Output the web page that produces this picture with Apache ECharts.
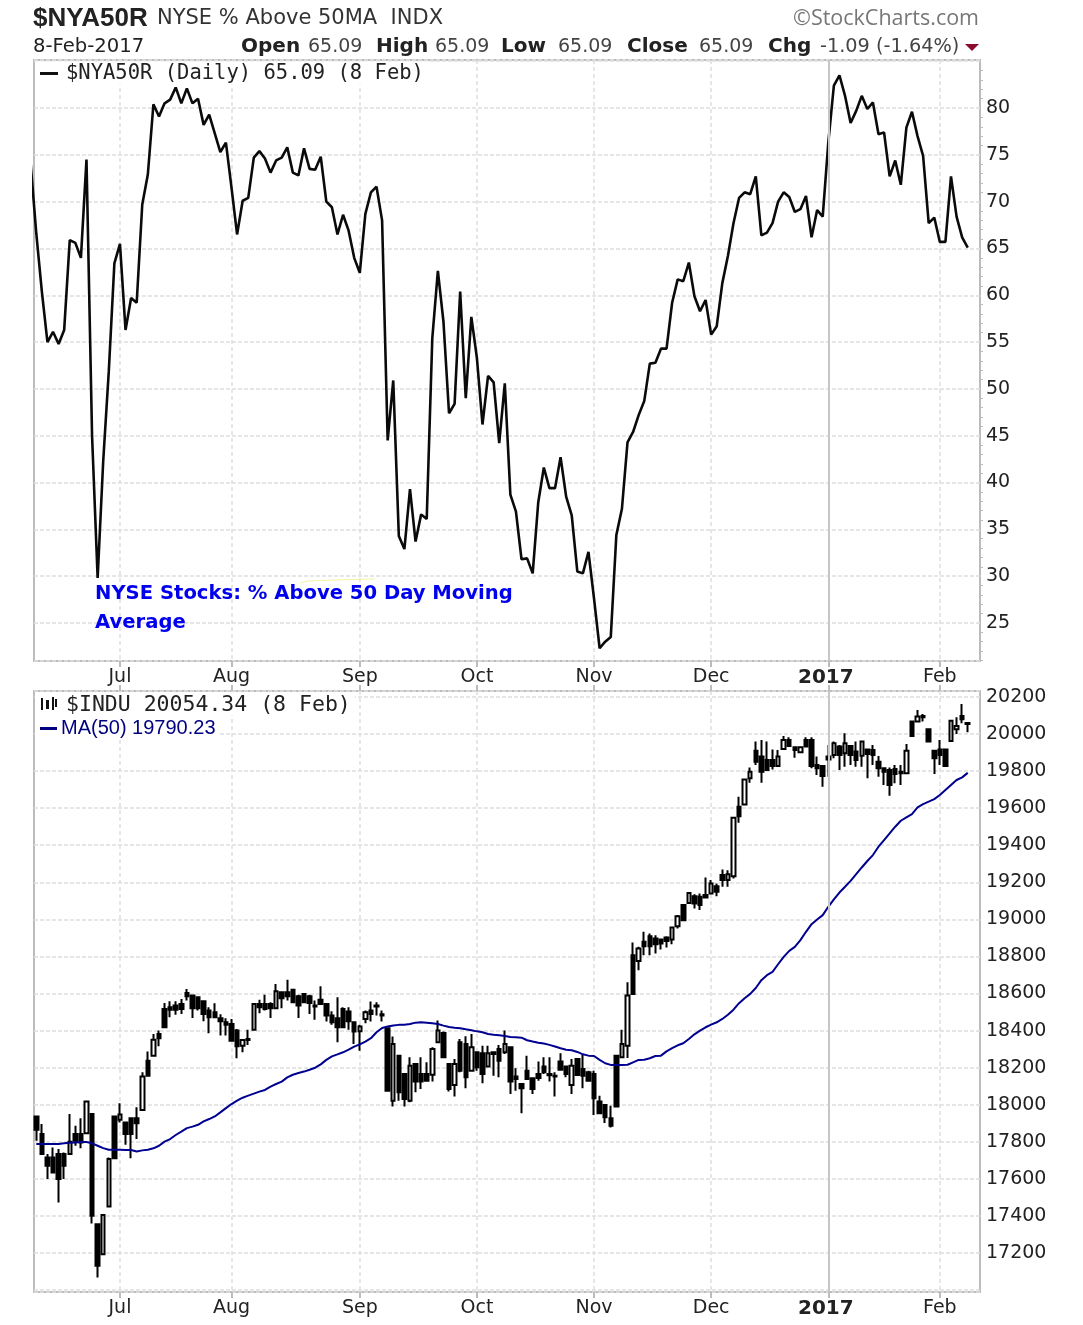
<!DOCTYPE html>
<html>
<head>
<meta charset="utf-8">
<style>html,body{margin:0;padding:0;background:#fff}#c{width:1083px;height:1325px}</style>
<script src="https://cdn.jsdelivr.net/npm/echarts@6/dist/echarts.min.js"></script>
</head>
<body>
<div id="c"></div>
<script>
// trading-day position of each month's first session (Jun 9 2016 = 0)
const monthTickIndex = [16, 36, 59, 80, 101, 122, 143, 163];
const monthTickLabels = ['Jul', 'Aug', 'Sep', 'Oct', 'Nov', 'Dec', '2017', 'Feb'];
const yearTickIndex = 143;
const nyaTickLabels = [25, 30, 35, 40, 45, 50, 55, 60, 65, 70, 75, 80];
const induTickLabels = [17200, 17400, 17600, 17800, 18000, 18200, 18400, 18600, 18800, 19000, 19200, 19400, 19600, 19800, 20000, 20200];

// $NYA50R close, daily from Jun 9 2016
const nyaValues = [
74,66.6,60.4,55,56.1,54.8,56.3,65.9,65.6,64,74.5,45,29.8,42.3,51.9,63.4,65.5,56.3,59.7,59.2,
69.7,72.9,80.4,79.1,80.5,80.9,82.2,80.5,82.1,80.5,81,78.2,79.3,77.3,75.3,76.3,71.5,66.5,70.1,70.4,
74.7,75.4,74.6,73.1,74.4,74.7,75.8,73.1,72.8,75.7,73.5,73.4,74.8,70,69.4,66.5,68.6,66.9,64,62.4,
68.7,71,71.6,68,44.5,50.9,34.3,32.9,39.3,33.7,36.6,36.1,55.4,62.6,57.2,47.4,48.4,60.4,49,57.7,
53.3,46.2,51.4,50.7,44.2,50.6,38.7,36.9,31.8,31.9,30.3,37.9,41.6,39.4,39.4,42.7,38.5,36.5,30.5,30.3,
32.6,27.6,22.3,23,23.5,34.4,37.2,44.3,45.4,47.2,48.7,52.7,52.8,54.3,54.3,59.2,61.7,61.5,63.5,59.9,
58.3,59.5,55.8,56.7,61.3,64.2,67.7,70.4,71,70.8,72.7,66.4,66.7,67.7,70,71,70.5,68.9,69.2,70.6,
66.2,69.1,68.4,76.3,82.4,83.5,81.3,78.4,79.7,81.3,79.9,80.6,77.2,77.4,72.7,74.4,71.8,77.9,79.6,77,
74.9,67.7,68.3,65.7,65.7,72.7,68.4,66.18,65.09];

// $INDU daily from Jun 10 2016
const induOpen = [
17937,17842,17716,17716,17734,17734,17734,17842,17842,17847,17950,17356,17194,17451,17937,17919,17905,17927,17927,17972,
18238,18265,18382,18517,18526,18535,18544,18603,18589,18580,18558,18508,18499,18467,18445,18436,18400,18319,18355,18405,
18544,18544,18544,18521,18607,18607,18621,18585,18598,18585,18535,18567,18544,18481,18467,18517,18503,18445,18396,18463,
18508,18535,18488,18413,18022,18265,18166,18022,18220,18166,18166,18162,18337,18387,18220,18107,18337,18328,18184,18283,
18278,18207,18283,18301,18283,18310,18152,18112,18184,18143,18166,18207,18166,18157,18233,18207,18107,18247,18193,18175,
18166,18017,17999,17927,18265,18256,18319,18807,18776,18879,18909,18897,18891,18902,18891,18963,19077,19089,19125,19122,
19131,19140,19179,19239,19212,19233,19608,19620,19761,19910,19878,19860,19860,19827,19919,19968,19928,19901,19968,19968,
19833,19827,19878,19887,19932,19896,19935,19905,19883,19917,19914,19851,19815,19806,19811,19797,19788,20067,20067,20097,
20025,19910,19917,19917,19962,20025,20097,20060];
const induClose = [
17865,17734,17671,17635,17599,17671,17801,17806,17797,18017,17401,17131,17406,17707,17711,17948,17842,17842,17900,18153,
18157,18351,18359,18418,18513,18513,18517,18585,18521,18521,18490,18472,18472,18450,18431,18346,18315,18350,18350,18544,
18526,18517,18521,18612,18575,18585,18553,18535,18553,18549,18530,18544,18481,18445,18418,18418,18450,18395,18422,18499,
18490,18530,18481,18076,18328,18067,18031,18211,18125,18125,18130,18301,18400,18256,18085,18220,18184,18148,18310,18202,
18166,18278,18274,18238,18328,18125,18139,18089,18139,18085,18144,18175,18159,18152,18189,18166,18211,18161,18157,18130,
18035,17954,17932,17887,17991,18328,18589,18598,18843,18855,18855,18866,18870,18884,18956,19017,18996,19143,19086,19077,
19118,19194,19149,19212,19244,19548,19557,19755,19797,19851,19797,19806,19827,19878,19968,19935,19914,19928,19932,19827,
19815,19773,19863,19950,19887,19950,19887,19860,19959,19892,19887,19815,19797,19725,19784,19788,19910,19989,20094,20090,
19959,19869,19887,19827,20072,20043,20079,20054.34];
const induLow = [
17806,17734,17599,17635,17473,17599,17734,17779,17765,17847,17360,17068,17194,17451,17711,17905,17784,17711,17815,17972,
18157,18261,18315,18418,18472,18485,18490,18562,18468,18508,18450,18386,18467,18373,18373,18346,18251,18283,18323,18405,
18494,18508,18468,18521,18521,18562,18548,18468,18549,18490,18459,18544,18449,18432,18337,18418,18404,18328,18292,18440,
18449,18481,18449,18076,17990,18022,17990,18013,18067,18085,18125,18125,18337,18251,18072,18044,18175,18089,18179,18184,
18116,18202,18157,18148,18274,18058,18076,17954,18139,18058,18130,18166,18126,18045,18189,18148,18058,18161,18089,18125,
17945,17954,17901,17878,17991,18256,18252,18598,18726,18806,18806,18816,18837,18848,18866,18951,18996,19086,19059,19050,
19118,19140,19125,19176,19176,19221,19521,19617,19737,19833,19737,19806,19809,19824,19917,19932,19872,19896,19928,19815,
19779,19716,19770,19869,19806,19824,19833,19824,19824,19761,19833,19770,19725,19667,19734,19725,19784,19989,20067,20067,
19959,19784,19833,19824,19959,20000,20058,20009];
const induHigh = [
17937,17896,17734,17770,17761,17743,17950,17887,17927,18017,17950,17356,17406,17716,17937,18008,17905,17927,17986,18175,
18288,18382,18400,18549,18558,18558,18571,18625,18593,18584,18562,18526,18548,18488,18467,18463,18409,18350,18404,18548,
18567,18593,18553,18652,18611,18674,18625,18593,18603,18593,18562,18639,18549,18504,18580,18526,18526,18445,18432,18508,
18557,18553,18508,18418,18368,18265,18166,18256,18220,18256,18229,18310,18454,18395,18220,18247,18355,18369,18382,18283,
18319,18319,18283,18323,18400,18310,18197,18112,18265,18143,18233,18256,18256,18175,18278,18207,18247,18251,18270,18184,
18184,18049,18004,17995,18265,18404,18661,18875,18852,18933,18924,18915,18897,18909,18960,19023,19080,19143,19136,19140,
19226,19212,19194,19269,19265,19548,19662,19755,19820,19959,19968,19959,19917,19914,19989,19982,19932,19928,19982,19982,
19878,19833,19941,19959,19941,20004,19935,19959,19964,19922,19941,19881,19820,19820,19833,19833,19946,20067,20130,20108,
20025,19910,19968,19922,20076,20090,20162,20063];
const ma50 = [
17788,17788,17788,17788,17788,17792,17795,17797,17799,17799,17792,17779,17766,17757,17757,17757,17756,17756,17748,17754,
17757,17765,17779,17801,17815,17837,17855,17874,17882,17892,17910,17923,17937,17959,17982,18004,18022,18038,18049,18060,
18071,18080,18098,18112,18125,18148,18162,18171,18179,18189,18200,18218,18242,18261,18272,18283,18297,18314,18326,18341,
18359,18391,18414,18422,18427,18431,18432,18436,18443,18445,18443,18440,18436,18427,18420,18416,18413,18407,18402,18396,
18391,18382,18378,18375,18371,18366,18364,18362,18348,18341,18335,18330,18323,18314,18305,18297,18294,18285,18272,18265,
18263,18242,18224,18215,18215,18215,18216,18229,18242,18243,18251,18263,18265,18288,18305,18321,18332,18355,18380,18400,
18418,18432,18445,18463,18486,18513,18548,18575,18598,18630,18672,18699,18717,18758,18798,18830,18852,18888,18933,18974,
18999,19023,19068,19108,19145,19176,19208,19244,19280,19315,19347,19392,19428,19464,19500,19532,19550,19568,19604,19622,
19635,19649,19671,19698,19725,19752,19766,19790.23];

const GRID = '#dedede', BORDER = '#bcbcbc', TXT = '#222';
const FONT = '"DejaVu Sans"', MONO = '"DejaVu Sans Mono"', ARIAL = '"Liberation Sans"';
const xMin = 0.59, xMax = 170.2;

function xAxisFor(gridIndex, withLabels, position) {
  return {
    type: 'value', gridIndex, min: xMin, max: xMax, position,
    axisLine: { show: false },
    axisTick: { show: true, customValues: monthTickIndex, length: 6, lineStyle: { color: BORDER, width: 2 } },
    axisLabel: {
      show: withLabels, customValues: monthTickIndex, margin: 7, color: TXT, fontFamily: FONT, fontSize: 19,
      formatter: v => {
        const s = monthTickLabels[monthTickIndex.indexOf(v)];
        return s === '2017' ? '{y|' + s + '}' : s;
      },
      rich: { y: { fontFamily: FONT, fontWeight: 'bold', fontSize: 20, color: TXT, padding: [0, 5, 0, 0] } }
    },
    splitLine: { show: position === 'bottom', lineStyle: { color: GRID, width: 1.5, type: [4, 3] } }
  };
}
function yAxisFor(gridIndex, min, max, splitNumber, labels, minor) {
  return {
    type: 'value', gridIndex, position: 'right', min, max, splitNumber, scale: true,
    axisLine: { show: false },
    axisTick: { show: false },
    minorTick: { show: minor, splitNumber: 5, length: 3, lineStyle: { color: BORDER, width: 1 } },
    axisLabel: { customValues: labels, margin: 6, color: TXT, fontFamily: FONT, fontSize: 19, padding: [0, 0, 4, 0], formatter: v => String(v) },
    splitLine: { show: true, lineStyle: { color: GRID, width: 1.5, type: [4, 2] } }
  };
}
function text(x, y, t, font, fill, weight, size) {
  return { type: 'text', x, y, silent: true, z: 102, style: { text: t, fontFamily: font, fontSize: size, fontWeight: weight || 'normal', fill: fill || TXT, verticalAlign: 'middle', align: 'left' } };
}
function bar(x, y, w, h, fill, z) {
  return { type: 'rect', silent: true, z: z || 102, shape: { x, y, width: w, height: h }, style: { fill } };
}

const graphics = [
  // white legend backdrops that interrupt the grid
  bar(35, 61.5, 393, 23, '#fff', 101),
  bar(35, 692.5, 320, 23, '#fff', 101),
  bar(35, 715.5, 184, 24, '#fff', 101),
  text(33, 19, '$NYA50R', ARIAL, '#222', 'bold', 26),
  text(157, 19, 'NYSE % Above 50MA  INDX', FONT, '#333', 'normal', 21),
  text(33, 47, '8-Feb-2017', FONT, '#222', 'normal', 19.6),
  text(241, 47, 'Open', FONT, '#222', 'bold', 20),
  text(308, 47, '65.09', FONT, '#444', 'normal', 19),
  text(376, 47, 'High', FONT, '#222', 'bold', 20),
  text(435, 47, '65.09', FONT, '#444', 'normal', 19),
  text(501, 47, 'Low', FONT, '#222', 'bold', 20),
  text(558, 47, '65.09', FONT, '#444', 'normal', 19),
  text(627, 47, 'Close', FONT, '#222', 'bold', 20),
  text(699, 47, '65.09', FONT, '#444', 'normal', 19),
  text(768, 47, 'Chg', FONT, '#222', 'bold', 20),
  text(820, 47, '-1.09 (-1.64%)', FONT, '#444', 'normal', 19.3),
  { type: 'polygon', silent: true, z: 102, shape: { points: [[965, 44], [979, 44], [972, 51]] }, style: { fill: '#8a0a30' } },
  text(793, 19, '\u00a9StockCharts.com', '"Open Sans"', '#777', 'normal', 21.5),
  bar(40, 72, 18, 3, '#111'),
  text(66, 74, '$NYA50R (Daily) 65.09 (8 Feb)', MONO, '#222', 'normal', 20.5),
  text(66, 705, '$INDU 20054.34 (8 Feb)', MONO, '#222', 'normal', 21.5),
  bar(40, 727, 17, 3, '#000080'),
  text(61, 728, 'MA(50) 19790.23', ARIAL, '#000080', 'normal', 20),
  { type: 'polyline', silent: true, z: 101, shape: { points: [[300, 583], [308, 581], [335, 580], [375, 579]] }, style: { stroke: '#f4f4a0', lineWidth: 1, fill: null } },
  text(95, 594, 'NYSE Stocks: % Above 50 Day Moving', FONT, '#0000ee', 'bold', 19.6),
  text(95, 623, 'Average', FONT, '#0000ee', 'bold', 19.6),
  bar(41, 698, 2, 12, '#111'), bar(46, 700, 3, 9, '#111'), bar(52, 697, 2, 13, '#111'), bar(55, 699, 2, 8, '#111')
];

const chart = echarts.init(document.getElementById('c'), null, { renderer: 'canvas', width: 1083, height: 1325 });
chart.setOption({
  animation: false,
  backgroundColor: '#fff',
  grid: [
    { left: 34, width: 946, top: 60, height: 601, show: true, borderColor: BORDER, borderWidth: 2, backgroundColor: '#fff' },
    { left: 34, width: 946, top: 691, height: 601, show: true, borderColor: BORDER, borderWidth: 2, backgroundColor: '#fff' }
  ],
  xAxis: [xAxisFor(0, true, 'bottom'), xAxisFor(1, true, 'bottom'), xAxisFor(1, false, 'top')],
  yAxis: [
    yAxisFor(0, 20.94, 85.13, 12, nyaTickLabels, true),
    yAxisFor(1, 16990, 20232, 16, induTickLabels, false)
  ],
  graphic: { elements: graphics },
  series: [
    {
      type: 'line', xAxisIndex: 0, yAxisIndex: 0, z: 1, data: [], silent: true,
      markLine: { silent: true, symbol: 'none', label: { show: false }, lineStyle: { color: '#c6c6c6', width: 2, type: 'solid' }, data: [{ xAxis: yearTickIndex }] }
    },
    {
      type: 'line', xAxisIndex: 1, yAxisIndex: 1, z: 1, data: [], silent: true,
      markLine: { silent: true, symbol: 'none', label: { show: false }, lineStyle: { color: '#c6c6c6', width: 2, type: 'solid' }, data: [{ xAxis: yearTickIndex }] }
    },
    {
      name: '$NYA50R', type: 'line', xAxisIndex: 0, yAxisIndex: 0, z: 3,
      showSymbol: false, smooth: false, lineStyle: { color: '#0a0a0a', width: 2.6 },
      data: nyaValues.map((v, i) => [i, v])
    },
    {
      name: '$INDU', type: 'candlestick', xAxisIndex: 1, yAxisIndex: 1, z: 3, barWidth: 4,
      itemStyle: { color: '#ffffff', color0: '#000000', borderColor: '#000000', borderColor0: '#000000', borderWidth: 2 },
      data: induOpen.map((o, i) => [i + 1, o, induClose[i], induLow[i], induHigh[i]])
    },
    {
      name: 'MA(50)', type: 'line', xAxisIndex: 1, yAxisIndex: 1, z: 4,
      showSymbol: false, lineStyle: { color: '#000090', width: 2 },
      data: ma50.map((v, i) => [i + 1, v])
    }
  ]
});
</script>
</body>
</html>
